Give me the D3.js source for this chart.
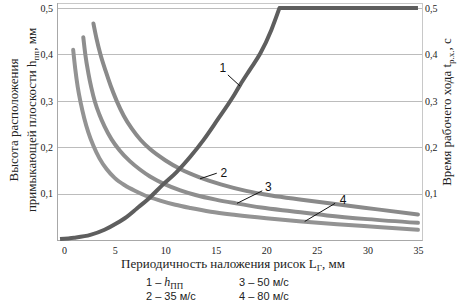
<!DOCTYPE html>
<html><head><meta charset="utf-8">
<script src="https://cdn.jsdelivr.net/npm/d3@7"></script>
<style>
body{margin:0;background:#fff}svg{display:block}
.serif{font-family:"Liberation Serif","Times New Roman","DejaVu Serif",serif}
.sans{font-family:"Liberation Sans",Arial,"DejaVu Sans",sans-serif}
</style>
</head><body>
<svg id="c" width="458" height="308"></svg>
<script>
// Curve 1: h_пп (mm) vs L_Г
const c1x = [-0.4, 1, 2.6, 4, 5.2, 6.2, 7.2, 8.3, 9.8, 11.1, 12.5, 13.8, 15.2, 16.6, 17.4, 18.4, 19.4, 20.5, 21.3, 35];
const c1y = [0.002, 0.005, 0.011, 0.022, 0.036, 0.050, 0.068, 0.088, 0.120, 0.146, 0.180, 0.216, 0.26, 0.305, 0.334, 0.368, 0.402, 0.453, 0.5, 0.5];
// Curve 2: 35 m/s
const c2x = [2.9, 3.2, 3.6, 4.1, 4.6, 5.2, 5.9, 6.7, 7.6, 8.5, 10, 11.5, 13.4, 15.5, 18, 20.5, 23.5, 27, 31, 35];
const c2y = [0.467, 0.435, 0.40, 0.365, 0.333, 0.30, 0.268, 0.240, 0.215, 0.196, 0.172, 0.153, 0.135, 0.12, 0.106, 0.096, 0.087, 0.077, 0.066, 0.055];
// Curve 3: 50 m/s
const c3x = [1.9, 2.1, 2.4, 2.7, 3.05, 3.5, 4.0, 4.7, 5.5, 6.5, 7.5, 8.5, 10, 11.5, 13, 15, 17, 19.5, 22.5, 26, 30, 35];
const c3y = [0.437, 0.40, 0.36, 0.328, 0.298, 0.27, 0.245, 0.217, 0.193, 0.170, 0.152, 0.137, 0.12, 0.107, 0.097, 0.087, 0.079, 0.070, 0.062, 0.053, 0.045, 0.037];
// Curve 4: 80 m/s
const c4x = [0.9, 1.1, 1.35, 1.65, 2.0, 2.4, 2.9, 3.5, 4.2, 5.0, 6.0, 7.0, 8.0, 9.5, 11, 12.5, 14.5, 17, 20, 23.5, 27, 31, 35];
const c4y = [0.41, 0.37, 0.33, 0.295, 0.262, 0.232, 0.203, 0.176, 0.153, 0.134, 0.118, 0.106, 0.096, 0.085, 0.076, 0.069, 0.061, 0.054, 0.047, 0.040, 0.034, 0.028, 0.022];

const xTicks = [0, 5, 10, 15, 20, 25, 30, 35];
const yTicks = [0.1, 0.2, 0.3, 0.4, 0.5];
const yTickLabels = ["0,1", "0,2", "0,3", "0,4", "0,5"];
const curveLabels = ["1", "2", "3", "4"];
// label anchor (data units) and leader line endpoints
const labelX = [15.7, 15.8, 20.2, 27.6];
const labelY = [0.371, 0.145, 0.115, 0.086];
const leadX1 = [16.2, 13.45, 17.1, 23.8];
const leadY1 = [0.356, 0.132, 0.079, 0.040];
const leadX2 = [17.4, 15.1, 19.6, 26.8];
const leadY2 = [0.332, 0.144, 0.106, 0.079];

const svg = d3.select("#c");
const x = d3.scaleLinear().domain([-0.7, 35.4]).range([57, 422]);
const y = d3.scaleLinear().domain([0, 0.511]).range([240, 3]);

// grid
svg.append("g").selectAll("line").data(yTicks).join("line")
  .attr("x1", x(-0.7)).attr("x2", x(35.4))
  .attr("y1", d => Math.round(y(d)) + 0.5).attr("y2", d => Math.round(y(d)) + 0.5)
  .attr("stroke", "#bcbcbc").attr("stroke-width", 1);
// frame
svg.append("rect").attr("x", x(-0.7) + 0.5).attr("y", y(0.511) + 0.5)
  .attr("width", x(35.4) - x(-0.7)).attr("height", y(0) - y(0.511))
  .attr("fill", "none").attr("stroke", "#c8c8c8");
svg.append("line").attr("x1", x(-0.7) + 0.5).attr("x2", x(-0.7) + 0.5)
  .attr("y1", y(0.511)).attr("y2", y(0) + 0.5).attr("stroke", "#a8a8a8");
svg.append("line").attr("x1", x(-0.7)).attr("x2", x(35.4) + 0.5)
  .attr("y1", y(0) + 0.5).attr("y2", y(0) + 0.5).attr("stroke", "#a8a8a8");

// axes ticks
const xAxis = d3.axisBottom(x).tickValues(xTicks).tickSize(0).tickPadding(7);
const gx = svg.append("g").attr("transform", `translate(0,${y(0)})`).call(xAxis);
gx.attr("font-family", null).attr("font-size", null);
gx.select(".domain").remove();
gx.selectAll("text").attr("class", "serif").style("font-size", "10px").attr("fill", "#222");

const yAxisL = d3.axisLeft(y).tickValues(yTicks).tickFormat((d, i) => yTickLabels[i]).tickSize(0).tickPadding(4);
const gl = svg.append("g").attr("transform", `translate(${x(-0.7)},0)`).call(yAxisL);
gl.attr("font-family", null).attr("font-size", null);
gl.select(".domain").remove();
gl.selectAll("text").attr("class", "serif").style("font-size", "10px").attr("fill", "#222");

const yAxisR = d3.axisRight(y).tickValues(yTicks).tickFormat((d, i) => yTickLabels[i]).tickSize(0).tickPadding(3);
const gr = svg.append("g").attr("transform", `translate(${x(35.4)},0)`).call(yAxisR);
gr.attr("font-family", null).attr("font-size", null);
gr.select(".domain").remove();
gr.selectAll("text").attr("class", "serif").style("font-size", "10px").attr("fill", "#222");

// curves
const line = d3.line().x(d => x(d[0])).y(d => y(d[1])).curve(d3.curveMonotoneX);
const lin = d3.line().x(d => x(d[0])).y(d => y(d[1]));
const zip = (a, b) => a.map((v, i) => [v, b[i]]);
const series = [
  {pts: zip(c4x, c4y), color: "#939393"},
  {pts: zip(c3x, c3y), color: "#8e8e8e"},
  {pts: zip(c2x, c2y), color: "#8a8a8a"}
];
series.forEach(s => {
  svg.append("path").attr("d", line(s.pts)).attr("fill", "none")
    .attr("stroke", s.color).attr("stroke-width", 4).attr("stroke-linecap", "round");
});
const p1 = zip(c1x, c1y);
const kink = c1y.indexOf(0.5);
svg.append("path").attr("d", line(p1.slice(0, kink + 1)) + lin(p1.slice(kink)).replace(/^M/, "L"))
  .attr("fill", "none").attr("stroke", "#5e5e5e").attr("stroke-width", 4)
  .attr("stroke-linejoin", "round");

// curve labels
curveLabels.forEach((t, i) => {
  svg.append("line").attr("x1", x(leadX1[i])).attr("y1", y(leadY1[i]))
    .attr("x2", x(leadX2[i])).attr("y2", y(leadY2[i])).attr("stroke", "#111").attr("stroke-width", 1);
  svg.append("text").attr("class", "sans").attr("x", x(labelX[i])).attr("y", y(labelY[i]) + 4)
    .attr("text-anchor", "middle").style("font-size", "12px").attr("fill", "#111").text(t);
});

// axis titles
const lt = svg.append("text").attr("class", "serif").attr("transform", "translate(18,120) rotate(-90)")
  .attr("text-anchor", "middle").style("font-size", "13px").attr("fill", "#222");
lt.append("tspan").attr("x", 0).attr("y", 0).text("Высота расположения");
const l2 = lt.append("tspan").attr("x", 0).attr("y", 18);
l2.append("tspan").text("примыкающей плоскости h");
l2.append("tspan").style("font-size", "9px").attr("dy", 3).text("пп");
l2.append("tspan").attr("dy", -3).text(", мм");

const rt = svg.append("text").attr("class", "serif").attr("transform", "translate(451,112) rotate(-90)")
  .attr("text-anchor", "middle").style("font-size", "13px").attr("fill", "#222");
rt.append("tspan").text("Время рабочего хода t");
rt.append("tspan").style("font-size", "9px").attr("dy", 3).text("р.х.");
rt.append("tspan").attr("dy", -3).text(", с");

const xt = svg.append("text").attr("class", "serif").attr("x", 233).attr("y", 268)
  .attr("text-anchor", "middle").style("font-size", "13px").attr("fill", "#222");
xt.append("tspan").text("Периодичность наложения рисок L");
xt.append("tspan").style("font-size", "9px").attr("dy", 3).text("Г");
xt.append("tspan").attr("dy", -3).text(", мм");

// legend
const legTexts = ["35 м/с", "50 м/с", "80 м/с"];
const leg1 = svg.append("text").attr("class", "sans").attr("x", 146).attr("y", 286).style("font-size", "11px").attr("fill", "#222");
leg1.append("tspan").text("1 – ");
leg1.append("tspan").attr("class", "serif").style("font-style", "italic").style("font-size", "12px").text("h");
leg1.append("tspan").attr("class", "serif").style("font-size", "9px").attr("dy", 3).text("ПП");
const legPos = [[146, 300], [239, 286], [239, 300]];
legTexts.forEach((t, i) => {
  svg.append("text").attr("class", "sans").attr("x", legPos[i][0]).attr("y", legPos[i][1])
    .style("font-size", "11px").attr("fill", "#222").text(`${i + 2} – ${t}`);
});
</script>
</body></html>
